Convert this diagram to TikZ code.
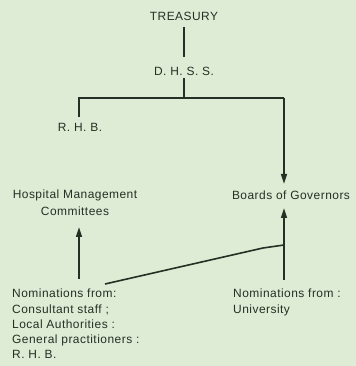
\documentclass[tikz,border=0pt]{standalone}
\usepackage{fontspec}
\setmainfont{Liberation Sans}[LetterSpace=4]
\usetikzlibrary{arrows.meta}
\definecolor{bg}{RGB}{222,236,214}
\definecolor{ink}{RGB}{35,48,35}
\tikzset{
  lbl/.style={inner sep=0pt, text=ink, font=\fontsize{12}{15}\selectfont},
  conn/.style={draw=ink, line width=1.6bp},
  arr/.style={conn, -{Triangle[width=6bp,length=10bp]}},
}
\begin{document}
\begin{tikzpicture}[x=1bp,y=1bp]
\fill[bg] (0,0) rectangle (356,366);
\useasboundingbox (0,0) rectangle (356,366);
\node[lbl] (t) at (184,350) {TREASURY};
\node[lbl] (d) at (184,295) {D. H. S. S.};
\node[lbl] (r) at (80,239) {R. H. B.};
\node[lbl, align=center, font=\fontsize{12}{17}\selectfont] (h) at (75,163) {Hospital Management\\Committees};
\node[lbl] (b) at (291,171) {Boards of Governors};
\node[lbl, align=left, anchor=north west, font=\fontsize{12}{15.3}\selectfont] (nl) at (12,77) {Nominations from:\\Consultant staff ;\\Local Authorities :\\General practitioners :\\R. H. B.};
\node[lbl, align=left, anchor=north west, font=\fontsize{12}{15.3}\selectfont] (nr) at (233,77) {Nominations from :\\University};
\coordinate (j) at (184,268);
\coordinate (jl) at (79,268);
\coordinate (jr) at (284,268);
\coordinate (btop) at (284,182);
\coordinate (bbot) at (284,158);
\coordinate (rb) at (284,86);
\coordinate (hb) at (79,139);
\coordinate (hs) at (79,87);
\coordinate (k1) at (105,82);
\coordinate (k2) at (263,118);
\coordinate (k3) at (284,121);
\draw[conn] (184,339) -- (184,309);
\draw[conn] (d.south) ++(0,-3) -- (j);
\draw[conn] (r.north) ++(-1,6) |- (j) -- (jr);
\draw[conn] (jl) -- (jr);
\draw[arr] (jr) -- (btop);
\draw[arr] (hs) -- (hb);
\draw[arr] (rb) -- (bbot);
\draw[conn] (k1) -- (k2) -- (k3);
\end{tikzpicture}
\end{document}
